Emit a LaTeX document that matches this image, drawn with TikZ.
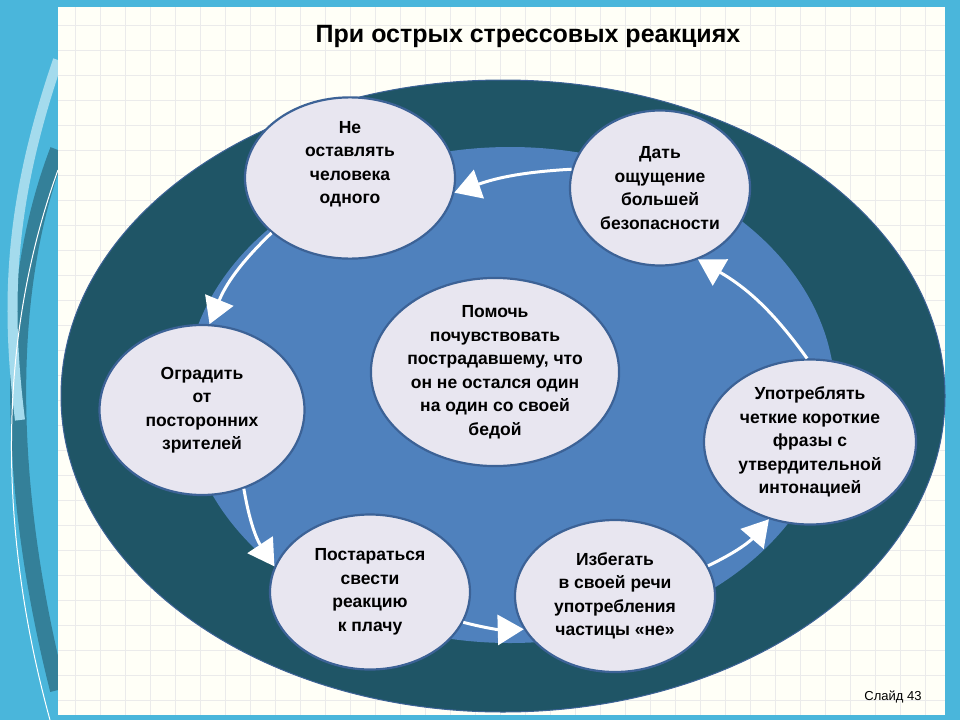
\documentclass[tikz,border=0pt]{standalone}
\usepackage{fontspec}
\setmainfont{Liberation Sans}
\usepackage{tikz}
\usetikzlibrary{arrows.meta, shapes.geometric}

\definecolor{outerteal}{HTML}{1F5566}
\definecolor{innerblue}{HTML}{4F81BD}
\definecolor{bubble}{HTML}{E8E6F0}
\definecolor{rimblue}{HTML}{3C6296}
\definecolor{sidebar}{HTML}{4AB6DB}

\begin{document}
\begin{tikzpicture}[x=1pt,y=-1pt,
    bub/.style={ellipse,draw=rimblue,line width=2.2pt,fill=bubble,align=center,
                font=\fontsize{17.5}{23.5}\selectfont\bfseries,inner sep=0pt},
    Ring/.style={white,line width=3pt,-{Triangle[length=26pt,width=30pt,fill=white]}},
                        ]
    \useasboundingbox (0,0) rectangle (960,720);
    % slide background
    \fill[sidebar] (0,0) rectangle (960,720);
    \draw[sidebar!70!black,line width=16pt] (58,150) .. controls (0,300) and (10,500) .. (58,690);
    \draw[white!50!sidebar,line width=10pt] (58,60) .. controls (10,200) and (5,300) .. (20,420);
    \draw[white,line width=1pt] (58,170) .. controls (0,330) and (-5,520) .. (50,720);
    \fill[white!97!yellow] (58,7) rectangle (945,715);
    \draw[black!8,step=25pt] (58,7) grid (945,715);
    % ellipses
    \fill[outerteal] (503,396) ellipse [x radius=442,y radius=316];
    \draw[rimblue,line width=1pt] (503,396) ellipse [x radius=442,y radius=316];
    \fill[innerblue] (510,395) ellipse [x radius=325,y radius=248];
    \node[font=\fontsize{25}{30}\selectfont\bfseries] (title) at (528,36) {При острых стрессовых реакциях};
    % bubbles
    \node[bub,minimum width=210pt,minimum height=140pt] (ne)  at (350,178) {Не\\оставлять\\человека\\одного\\[8pt]};
    \node[bub,minimum width=180pt,minimum height=155pt] (dat) at (660,188) {Дать\\ощущение\\большей\\безопасности};
    \node[bub,minimum width=205pt,minimum height=170pt] (ogr) at (202,410) {Оградить\\от\\посторонних\\зрителей};
    \node[bub,minimum width=235pt,minimum height=188pt] (pom) at (495,372) {Помочь\\почувствовать\\пострадавшему, что\\он не остался один\\на один со своей\\бедой};
    \node[bub,minimum width=212pt,minimum height=165pt] (upo) at (810,442) {Употреблять\\четкие короткие\\фразы с\\утвердительной\\интонацией};
    \node[bub,minimum width=200pt,minimum height=155pt] (pos) at (370,592) {Постараться\\свести\\реакцию\\к плачу};
    \node[bub,minimum width=200pt,minimum height=152pt] (izb) at (615,596) {Избегать\\в своей речи\\употребления\\частицы «не»};
    % ring arrows
    \draw[Ring] (dat.168) to[bend right=8] (ne.-8);
    \draw[Ring] (ne.215) to[bend right=12] (ogr.85);
    \draw[Ring] (ogr.-62) to[bend right=12] (pos.165);
    \draw[Ring] (pos.-18) to[bend right=8] (izb.200);
    \draw[Ring] (izb.18) to[bend right=12] (upo.-118);
    \draw[Ring] (upo.92) to[bend right=12] (dat.-62);
    \node[font=\fontsize{13}{15}\selectfont] (num) at (893,697) {Слайд 43};
\end{tikzpicture}
\end{document}
